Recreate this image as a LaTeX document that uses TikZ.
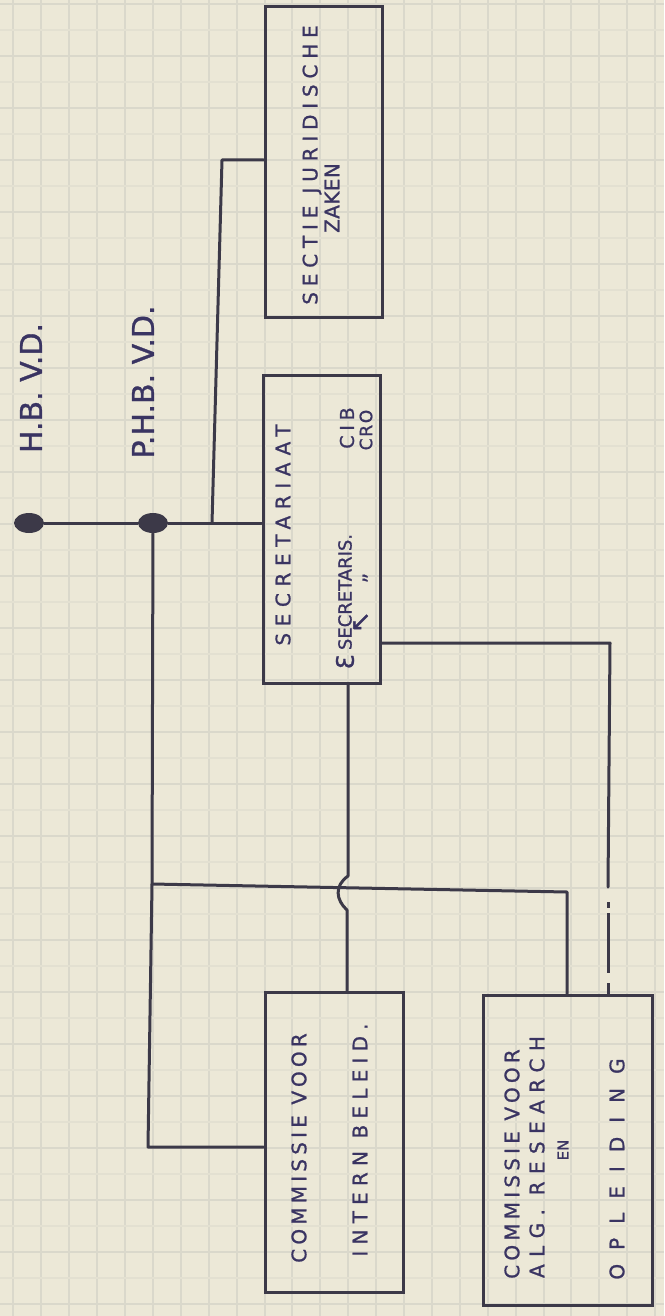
\documentclass[tikz,border=0pt]{standalone}
\usepackage{fontspec}
\setmainfont{DejaVu Sans}
\usetikzlibrary{shapes.geometric,calc}
\definecolor{papier}{HTML}{ECE8D7}
\definecolor{ruit}{HTML}{DAD8CB}
\definecolor{inkt}{HTML}{3C3948}
\definecolor{pen}{HTML}{3A3462}
\tikzset{
  lijn/.style={draw=inkt,line width=1.5pt,line cap=round,line join=round},
  doos/.style={draw=inkt,line width=1.5pt,inner sep=0pt},
  stip/.style={ellipse,fill=inkt,inner sep=0pt,minimum width=15pt,minimum height=10pt},
  hand/.style 2 args={rotate=90,inner sep=0pt,text=pen,
    font=\fontsize{#1}{#1}\selectfont\addfontfeatures{LetterSpace=#2,FakeBold=1}},
}

\begin{document}
\begin{tikzpicture}[x=0.5pt,y=-0.5pt]
  \useasboundingbox (0,0) rectangle (664,1316);
  \fill[papier] (0,0) rectangle (664,1316);
  \foreach \x in {0,...,23}
     \draw[ruit,line width=1pt] (13.4+27.9*\x,0) -- ++(0,1316);
  \foreach \y in {0,...,25}{
     \draw[ruit,line width=1pt] (0,4+52*\y) -- ++(664,0);
     \draw[ruit!50!papier,line width=0.8pt] (0,30+52*\y) -- ++(664,0);
  }

  \node[doos,minimum width=58.5pt,minimum height=155pt] (sectie) at (323.5,162) {};
  \node[doos,minimum width=58.5pt,minimum height=154pt] (secr) at (321.5,529) {};
  \node[doos,minimum width=69pt,minimum height=150pt] (intern) at (334,1142) {};
  \node[doos,minimum width=84.5pt,minimum height=155pt] (research) at (567.5,1150) {};

  \node[stip] (hbvd) at (29,523) {};
  \node[stip] (phbvd) at (153,523) {};
  \node[hand={15}{0}] (hblabel) at (31,388) {H.B. V.D.};
  \node[hand={15}{0}] (phlabel) at (143,382) {P.H.B. V.D.};

  \draw[lijn] (hbvd) -- (phbvd) -- (phbvd -| secr.west);
  \coordinate (tak) at (212,523);
  \coordinate (tak2) at (222,160);
  \draw[lijn] (tak) -- (tak2) -- (tak2 -| sectie.west);
  \coordinate (links) at (152,884);
  \coordinate (links2) at (148,1147);
  \draw[lijn] (phbvd) -- (links) -- (links2) -- (links2 -| intern.west);
  \coordinate (rechts) at (567,892);
  \draw[lijn] (links) -- (rechts) -- (rechts |- research.north);
  \coordinate (mid) at (348,876);
  \coordinate (mid2) at (347,910);
  \draw[lijn] (mid |- secr.south) -- (mid) .. controls (334,886) and (336,900) .. (mid2)
     -- (mid2 |- intern.north);
  \coordinate (ver) at (610,643);
  \coordinate (ver2) at (608,887);
  \draw[lijn] (secr.east |- ver) -- (ver) -- (ver2);
  \draw[lijn,line cap=butt,dash pattern=on 0pt off 7.5pt on 3pt off 2.5pt on 30pt off 5pt on 6pt off 5pt]
     (ver2) -- (ver2 |- research.north);

  \node[hand={10}{29}] (t1) at (312,165) {SECTIE JURIDISCHE};
  \node[hand={10}{2}] (t2) at (332,198) {ZAKEN};
  \node[hand={10}{33}] (t3) at (283,535) {SECRETARIAAT};
  \node[hand={12}{0}] (t4) at (345,662) {Ɛ};
  \node[hand={9}{0}] (t5) at (345,592) {SECRETARIS.};
  \node[hand={9.5}{25}] (t6) at (347,428) {CIB};
  \node[hand={13}{0}] (t7) at (361,622) {↖};
  \node[hand={10}{0}] (t8) at (370,578) {"};
  \node[hand={8.5}{10}] (t9) at (366,430) {CRO};
  \node[hand={10}{21}] (t10) at (299,1148) {COMMISSIE VOOR};
  \node[hand={10}{31}] (t11) at (360,1140) {INTERN BELEID.};
  \node[hand={10}{21}] (t12) at (512,1164) {COMMISSIE VOOR};
  \node[hand={10}{37}] (t13) at (537,1157) {ALG. RESEARCH};
  \node[hand={7.5}{0}] (t14) at (563,1150) {EN};
  \node[hand={10}{70}] (t15) at (617,1169) {OPLEIDING};
\end{tikzpicture}
\end{document}
